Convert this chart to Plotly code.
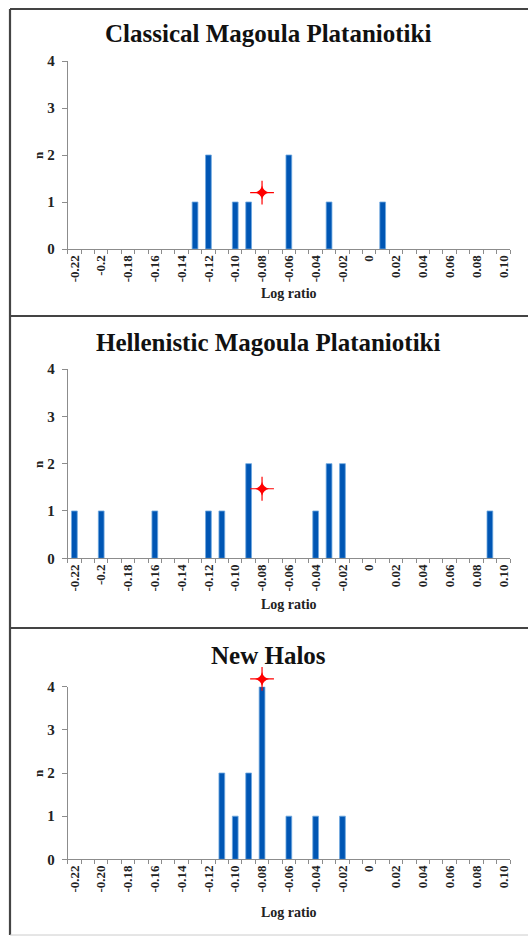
import plotly.graph_objects as go

# ---------------- data ----------------
classical_x = [-0.13, -0.12, -0.10, -0.09, -0.06, -0.03, 0.01]
classical_n = [1, 2, 1, 1, 2, 1, 1]
classical_mean = [-0.08]
classical_mean_y = [1.2]

hellenistic_x = [-0.22, -0.20, -0.16, -0.12, -0.11, -0.09, -0.04, -0.03, -0.02, 0.09]
hellenistic_n = [1, 1, 1, 1, 1, 2, 1, 2, 2, 1]
hellenistic_mean = [-0.08]
hellenistic_mean_y = [1.47]

newhalos_x = [-0.11, -0.10, -0.09, -0.08, -0.06, -0.04, -0.02]
newhalos_n = [2, 1, 2, 4, 1, 1, 1]
newhalos_mean = [-0.08]
newhalos_mean_y = [4.18]

label_vals = [-0.22, -0.20, -0.18, -0.16, -0.14, -0.12, -0.10, -0.08, -0.06,
              -0.04, -0.02, 0.0, 0.02, 0.04, 0.06, 0.08, 0.10]
labels_a = ["-0.22", "-0.2", "-0.18", "-0.16", "-0.14", "-0.12", "-0.10", "-0.08", "-0.06",
            "-0.04", "-0.02", "0", "0.02", "0.04", "0.06", "0.08", "0.10"]
labels_b = ["-0.22", "-0.20", "-0.18", "-0.16", "-0.14", "-0.12", "-0.10", "-0.08", "-0.06",
            "-0.04", "-0.02", "0", "0.02", "0.04", "0.06", "0.08", "0.10"]
# category boundaries (tick marks between the 0.01 bins)
boundaries = [-0.225, -0.215, -0.205, -0.195, -0.185, -0.175, -0.165, -0.155, -0.145,
              -0.135, -0.125, -0.115, -0.105, -0.095, -0.085, -0.075, -0.065, -0.055,
              -0.045, -0.035, -0.025, -0.015, -0.005, 0.005, 0.015, 0.025, 0.035,
              0.045, 0.055, 0.065, 0.075, 0.085, 0.095, 0.105]

titles = ["Classical Magoula Plataniotiki", "Hellenistic Magoula Plataniotiki", "New Halos"]

W, H = 528, 937
SERIF = "Liberation Serif, Times New Roman, serif"
BAR = "#0056B4"
AXC = "#8c8c8c"

panels = [
    dict(x=classical_x, n=classical_n, mx=classical_mean, my=classical_mean_y,
         labels=labels_a, y0=249.0, y4=61.0, title_y=33, xt_y=293, n_y=155),
    dict(x=hellenistic_x, n=hellenistic_n, mx=hellenistic_mean, my=hellenistic_mean_y,
         labels=labels_a, y0=558.3, y4=369.0, title_y=342, xt_y=604, n_y=464),
    dict(x=newhalos_x, n=newhalos_n, mx=newhalos_mean, my=newhalos_mean_y,
         labels=labels_b, y0=859.3, y4=686.7, title_y=655, xt_y=912, n_y=773),
]

x_left, x_right = 67.7, 510.0
EXT = 0.12  # hidden overlay axis extends 12% above the visible one

fig = go.Figure()
layout = dict(width=W, height=H, margin=dict(l=0, r=0, t=0, b=0, autoexpand=False),
              paper_bgcolor="white", plot_bgcolor="rgba(0,0,0,0)", showlegend=False)

annotations = []
shapes = []
for i, p in enumerate(panels, start=1):
    xa = "x" if i == 1 else f"x{i}"
    ya = "y" if i == 1 else f"y{i}"
    yo = f"y{i + 3}"
    fig.add_trace(go.Bar(x=p["x"], y=p["n"], width=0.0043, xaxis=xa, yaxis=ya,
                         marker=dict(color=BAR, line=dict(color="#6fa8e0", width=0.8))))
    fig.add_trace(go.Scatter(x=p["mx"], y=p["my"], mode="markers", xaxis=xa, yaxis=yo,
                             cliponaxis=False,
                             marker=dict(symbol="cross-thin", size=17,
                                         line=dict(color="#ff0000", width=1.2))))
    fig.add_trace(go.Scatter(x=p["mx"], y=p["my"], mode="markers", xaxis=xa, yaxis=yo,
                             cliponaxis=False,
                             marker=dict(symbol="star-diamond", size=10, color="#ff0000",
                                         line=dict(width=0))))
    xkey = "xaxis" if i == 1 else f"xaxis{i}"
    ykey = "yaxis" if i == 1 else f"yaxis{i}"
    okey = f"yaxis{i + 3}"
    bot = 1 - p["y0"] / H
    top = 1 - p["y4"] / H
    layout[xkey] = dict(
        domain=[x_left / W, x_right / W], anchor=ya, range=[-0.225, 0.105],
        tickmode="array", tickvals=label_vals, ticktext=p["labels"], tickangle=-90,
        ticks="", showline=True, linecolor=AXC, linewidth=1, showgrid=False, zeroline=False,
        tickfont=dict(family=SERIF, size=13, color="#222", weight="bold"),
        minor=dict(tickmode="array", tickvals=boundaries, ticks="outside", ticklen=4,
                   tickcolor=AXC, tickwidth=1, showgrid=False),
        automargin=False, fixedrange=True,
    )
    layout[ykey] = dict(
        domain=[bot, top], anchor=xa, range=[0, 4],
        tickmode="array", tickvals=[0, 1, 2, 3, 4], ticks="outside", ticklen=5,
        tickcolor=AXC, showline=True, linecolor=AXC, linewidth=1, showgrid=False,
        zeroline=False, ticklabelstandoff=4,
        tickfont=dict(family=SERIF, size=15, color="#222", weight="bold"),
        automargin=False, fixedrange=True,
    )
    layout[okey] = dict(
        domain=[bot, top + (top - bot) * EXT], anchor=xa, range=[0, 4 * (1 + EXT)],
        visible=False, showgrid=False, zeroline=False, fixedrange=True,
    )
    annotations.append(dict(text=titles[i - 1], x=268 / W, y=1 - p["title_y"] / H,
                            xref="paper", yref="paper", showarrow=False,
                            xanchor="center", yanchor="middle",
                            font=dict(family=SERIF, size=25, color="#111", weight="bold")))
    annotations.append(dict(text="Log ratio", x=289 / W, y=1 - p["xt_y"] / H,
                            xref="paper", yref="paper", showarrow=False,
                            xanchor="center", yanchor="middle",
                            font=dict(family=SERIF, size=14, color="#222", weight="bold")))
    annotations.append(dict(text="n", x=38 / W, y=1 - p["n_y"] / H, textangle=-90,
                            xref="paper", yref="paper", showarrow=False,
                            xanchor="center", yanchor="middle",
                            font=dict(family=SERIF, size=13, color="#222", weight="bold")))

# panel frames
BORDER = "#444444"
for yy in [9, 316, 628]:
    shapes.append(dict(type="line", xref="paper", yref="paper", x0=10 / W, x1=1.0,
                       y0=1 - yy / H, y1=1 - yy / H, line=dict(color=BORDER, width=2.2)))
shapes.append(dict(type="line", xref="paper", yref="paper", x0=10 / W, x1=10 / W,
                   y0=1 - 9 / H, y1=1 - 935 / H, line=dict(color=BORDER, width=2.2)))
shapes.append(dict(type="line", xref="paper", yref="paper", x0=10 / W, x1=1.0,
                   y0=1 - 935 / H, y1=1 - 935 / H, line=dict(color="#cccccc", width=1)))

layout["annotations"] = annotations
layout["shapes"] = shapes
fig.update_layout(**layout)
fig.write_html("out.html")
